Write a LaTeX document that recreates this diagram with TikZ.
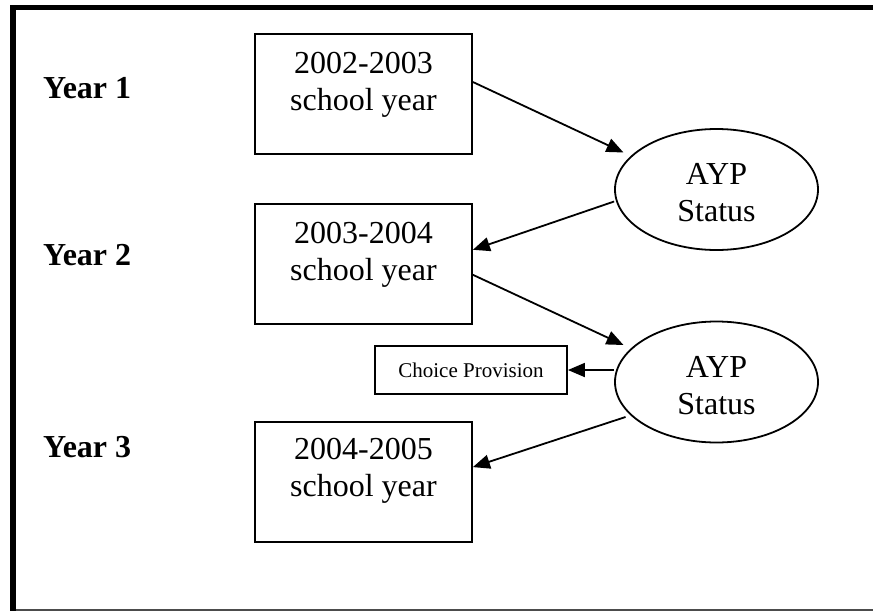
\documentclass[tikz,border=0pt]{standalone}
\usepackage{fontspec}
\setmainfont{Liberation Serif}
\usetikzlibrary{arrows.meta,positioning,shapes.geometric}

\begin{document}
\begin{tikzpicture}[
      x=1pt, y=-1pt,
      box/.style={draw, line width=1.8pt, minimum width=217pt,
                  minimum height=120pt, inner sep=0pt},
      boxtext/.style={align=center, inner sep=0pt, anchor=north,
                      font=\fontsize{32}{37}\selectfont},
      status/.style={draw, ellipse, line width=1.8pt, minimum width=203pt,
                     minimum height=121pt, inner sep=0pt, align=center,
                     text height=65pt, font=\fontsize{32}{37}\selectfont},
      choice/.style={draw, line width=1.8pt, minimum width=192pt,
                     minimum height=48pt, inner sep=0pt,
                     font=\fontsize{21}{25}\selectfont},
      yearlabel/.style={anchor=base west, inner sep=0pt,
                        font=\fontsize{32}{37}\selectfont\bfseries},
      arrow/.style={-{Triangle[length=17pt,width=14pt]}, line width=1.8pt}
    ]
    \useasboundingbox (0,0) rectangle (873,611);

    % frame
    \draw[line width=5.5pt] (13,5) -- (13,611);
    \draw[line width=5pt] (10,7.5) -- (873,7.5);
    \draw[line width=1.5pt, black!70] (16,610) -- (873,610);

    \node[yearlabel] (year1) at (43,98)  {Year 1};
    \node[yearlabel] (year2) at (43,265) {Year 2};
    \node[yearlabel] (year3) at (43,457) {Year 3};

    \node[box] (box1) at (363.5,94) {};
    \node[box, below=48pt of box1] (box2) {};
    \node[box, below=96pt of box2] (box3) {};
    \node[boxtext] (box1txt) at ([yshift=-19pt]box1.north) {2002-2003\\school year};
    \node[boxtext] (box2txt) at ([yshift=-19pt]box2.north) {2003-2004\\school year};
    \node[boxtext] (box3txt) at ([yshift=-17pt]box3.north) {2004-2005\\school year};

    \node[status] (ayp1) at (716.5,189.5) {AYP\\Status};
    \node[status] (ayp2) at (716.5,382) {AYP\\Status};
    \node[choice] (choice) at (471,370) {Choice Provision};

    \draw[arrow] ([yshift=12pt]box1.east) -- ([xshift=-93pt,yshift=37pt]ayp1.center);
    \draw[arrow] ([yshift=-12pt]ayp1.west) -- ([yshift=14pt]box2.east);
    \draw[arrow] ([yshift=-11pt]box2.east) -- ([xshift=-93pt,yshift=37pt]ayp2.center);
    \draw[arrow] ([yshift=12pt]ayp2.west) -- (choice.east);
    \draw[arrow] ([xshift=-91pt,yshift=-35pt]ayp2.center) -- ([yshift=14.5pt]box3.east);
  \end{tikzpicture}
\end{document}
